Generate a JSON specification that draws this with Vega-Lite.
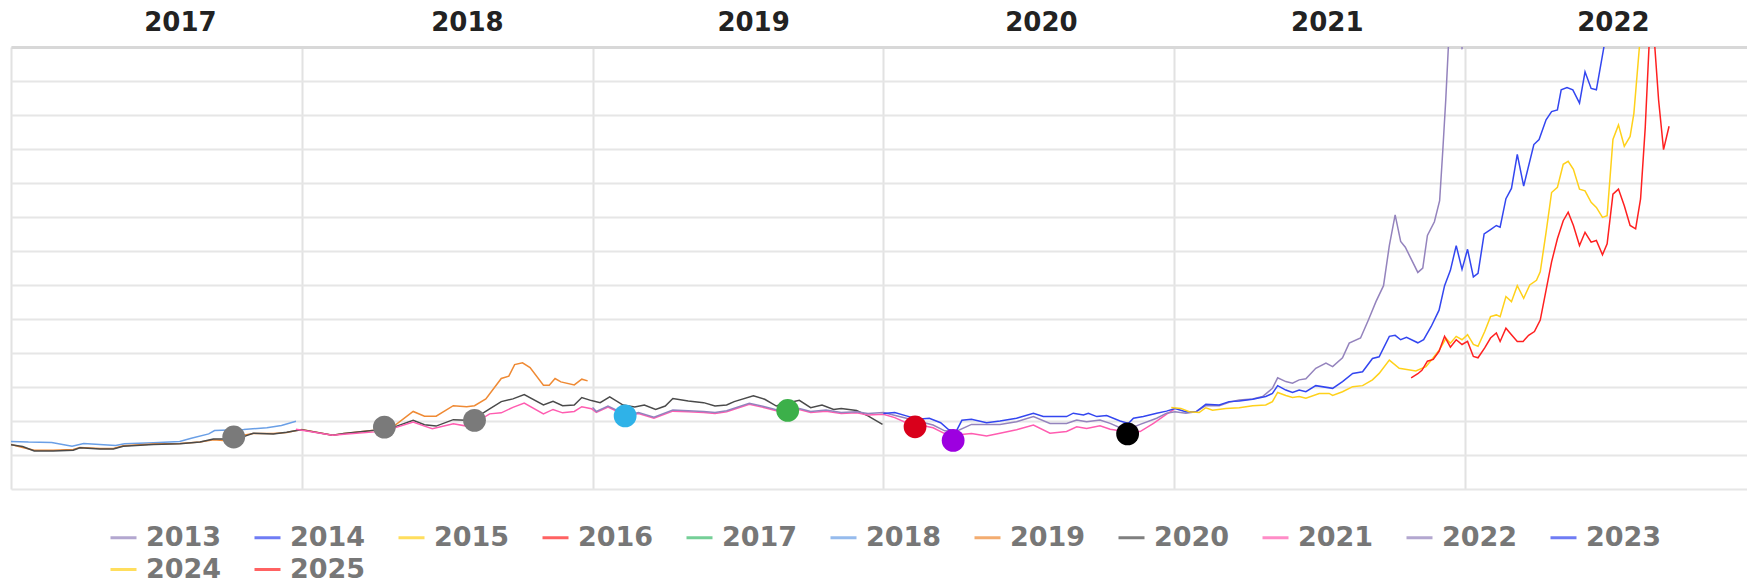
{
"$schema": "https://vega.github.io/schema/vega-lite/v6.json",
"width": 1736, "height": 442,
"autosize": "none",
"padding": {"left": 11, "top": 47, "right": 0, "bottom": 94},
"config": {"view": {"stroke": null}, "font": "DejaVu Sans"},
"datasets": {
"lines": [
{"s":"2018","x":0,"y":1.40},{"s":"2018","x":0.06,"y":1.38},{"s":"2018","x":0.14,"y":1.37},{"s":"2018","x":0.21,"y":1.26},{"s":"2018","x":0.25,"y":1.34},{"s":"2018","x":0.36,"y":1.28},{"s":"2018","x":0.39,"y":1.33},{"s":"2018","x":0.49,"y":1.36},{"s":"2018","x":0.58,"y":1.40},{"s":"2018","x":0.62,"y":1.49},{"s":"2018","x":0.68,"y":1.62},{"s":"2018","x":0.70,"y":1.72},{"s":"2018","x":0.80,"y":1.75},{"s":"2018","x":0.88,"y":1.80},{"s":"2018","x":0.93,"y":1.87},{"s":"2018","x":0.98,"y":1.99},

{"s":"2019","x":0,"y":1.31},{"s":"2019","x":0.04,"y":1.22},{"s":"2019","x":0.08,"y":1.14},{"s":"2019","x":0.145,"y":1.14},{"s":"2019","x":0.214,"y":1.16},{"s":"2019","x":0.237,"y":1.22},{"s":"2019","x":0.306,"y":1.19},{"s":"2019","x":0.352,"y":1.19},{"s":"2019","x":0.386,"y":1.27},{"s":"2019","x":0.489,"y":1.32},{"s":"2019","x":0.581,"y":1.34},{"s":"2019","x":0.65,"y":1.38},{"s":"2019","x":0.696,"y":1.45},{"s":"2019","x":0.742,"y":1.42},{"s":"2019","x":0.78,"y":1.55},{"s":"2019","x":0.833,"y":1.63},{"s":"2019","x":0.902,"y":1.63},{"s":"2019","x":0.948,"y":1.66},{"s":"2019","x":0.982,"y":1.72},{"s":"2019","x":1.0,"y":1.75},
{"s":"2019","x":1.106,"y":1.58},{"s":"2019","x":1.145,"y":1.63},{"s":"2019","x":1.251,"y":1.73},{"s":"2019","x":1.317,"y":1.85},{"s":"2019","x":1.383,"y":2.28},{"s":"2019","x":1.422,"y":2.14},{"s":"2019","x":1.462,"y":2.14},{"s":"2019","x":1.521,"y":2.45},{"s":"2019","x":1.567,"y":2.42},{"s":"2019","x":1.594,"y":2.45},{"s":"2019","x":1.633,"y":2.65},{"s":"2019","x":1.686,"y":3.25},{"s":"2019","x":1.712,"y":3.32},{"s":"2019","x":1.732,"y":3.66},{"s":"2019","x":1.759,"y":3.71},{"s":"2019","x":1.785,"y":3.57},{"s":"2019","x":1.831,"y":3.05},{"s":"2019","x":1.851,"y":3.05},{"s":"2019","x":1.871,"y":3.25},{"s":"2019","x":1.891,"y":3.15},{"s":"2019","x":1.937,"y":3.06},{"s":"2019","x":1.963,"y":3.23},{"s":"2019","x":1.983,"y":3.18},

{"s":"2020","x":0,"y":1.30},{"s":"2020","x":0.04,"y":1.25},{"s":"2020","x":0.08,"y":1.12},{"s":"2020","x":0.145,"y":1.12},{"s":"2020","x":0.214,"y":1.14},{"s":"2020","x":0.237,"y":1.21},{"s":"2020","x":0.306,"y":1.18},{"s":"2020","x":0.352,"y":1.18},{"s":"2020","x":0.386,"y":1.26},{"s":"2020","x":0.489,"y":1.31},{"s":"2020","x":0.581,"y":1.33},{"s":"2020","x":0.65,"y":1.38},{"s":"2020","x":0.696,"y":1.47},{"s":"2020","x":0.742,"y":1.47},{"s":"2020","x":0.765,"y":1.43},{"s":"2020","x":0.81,"y":1.57},{"s":"2020","x":0.833,"y":1.64},{"s":"2020","x":0.902,"y":1.62},{"s":"2020","x":0.948,"y":1.67},{"s":"2020","x":0.982,"y":1.72},{"s":"2020","x":1.0,"y":1.74},
{"s":"2020","x":1.106,"y":1.58},{"s":"2020","x":1.145,"y":1.63},{"s":"2020","x":1.251,"y":1.73},{"s":"2020","x":1.317,"y":1.82},{"s":"2020","x":1.383,"y":2.02},{"s":"2020","x":1.422,"y":1.89},{"s":"2020","x":1.462,"y":1.85},{"s":"2020","x":1.521,"y":2.04},{"s":"2020","x":1.567,"y":2.02},{"s":"2020","x":1.60,"y":2.11},{"s":"2020","x":1.646,"y":2.36},{"s":"2020","x":1.686,"y":2.57},{"s":"2020","x":1.726,"y":2.65},{"s":"2020","x":1.765,"y":2.78},{"s":"2020","x":1.831,"y":2.47},{"s":"2020","x":1.864,"y":2.58},{"s":"2020","x":1.897,"y":2.45},{"s":"2020","x":1.937,"y":2.47},{"s":"2020","x":1.963,"y":2.69},{"s":"2020","x":1.996,"y":2.60},
{"s":"2020","x":2.026,"y":2.54},{"s":"2020","x":2.059,"y":2.71},{"s":"2020","x":2.105,"y":2.47},{"s":"2020","x":2.145,"y":2.41},{"s":"2020","x":2.178,"y":2.47},{"s":"2020","x":2.217,"y":2.34},{"s":"2020","x":2.25,"y":2.44},{"s":"2020","x":2.276,"y":2.66},{"s":"2020","x":2.329,"y":2.59},{"s":"2020","x":2.382,"y":2.54},{"s":"2020","x":2.421,"y":2.44},{"s":"2020","x":2.461,"y":2.47},{"s":"2020","x":2.487,"y":2.57},{"s":"2020","x":2.553,"y":2.74},{"s":"2020","x":2.592,"y":2.64},{"s":"2020","x":2.632,"y":2.44},{"s":"2020","x":2.658,"y":2.51},{"s":"2020","x":2.711,"y":2.61},{"s":"2020","x":2.75,"y":2.39},{"s":"2020","x":2.789,"y":2.47},{"s":"2020","x":2.829,"y":2.34},{"s":"2020","x":2.855,"y":2.37},{"s":"2020","x":2.908,"y":2.31},{"s":"2020","x":2.947,"y":2.15},{"s":"2020","x":2.997,"y":1.90},

{"s":"2021","x":0.98,"y":1.76},{"s":"2021","x":1.106,"y":1.58},{"s":"2021","x":1.145,"y":1.61},{"s":"2021","x":1.251,"y":1.68},{"s":"2021","x":1.317,"y":1.79},{"s":"2021","x":1.383,"y":1.97},{"s":"2021","x":1.422,"y":1.85},{"s":"2021","x":1.449,"y":1.77},{"s":"2021","x":1.521,"y":1.92},{"s":"2021","x":1.567,"y":1.85},{"s":"2021","x":1.60,"y":1.97},{"s":"2021","x":1.646,"y":2.21},{"s":"2021","x":1.686,"y":2.24},{"s":"2021","x":1.726,"y":2.40},{"s":"2021","x":1.765,"y":2.53},{"s":"2021","x":1.831,"y":2.21},{"s":"2021","x":1.864,"y":2.34},{"s":"2021","x":1.897,"y":2.24},{"s":"2021","x":1.937,"y":2.28},{"s":"2021","x":1.963,"y":2.42},{"s":"2021","x":1.996,"y":2.36},
{"s":"2021","x":2.013,"y":2.25},{"s":"2021","x":2.053,"y":2.41},{"s":"2021","x":2.118,"y":2.15},{"s":"2021","x":2.158,"y":2.22},{"s":"2021","x":2.211,"y":2.08},{"s":"2021","x":2.276,"y":2.29},{"s":"2021","x":2.329,"y":2.27},{"s":"2021","x":2.382,"y":2.25},{"s":"2021","x":2.421,"y":2.22},{"s":"2021","x":2.461,"y":2.27},{"s":"2021","x":2.539,"y":2.49},{"s":"2021","x":2.592,"y":2.39},{"s":"2021","x":2.645,"y":2.27},{"s":"2021","x":2.711,"y":2.34},{"s":"2021","x":2.75,"y":2.25},{"s":"2021","x":2.803,"y":2.29},{"s":"2021","x":2.855,"y":2.22},{"s":"2021","x":2.908,"y":2.24},{"s":"2021","x":2.947,"y":2.18},{"s":"2021","x":3.0,"y":2.20},
{"s":"2021","x":3.039,"y":2.10},{"s":"2021","x":3.079,"y":1.95},{"s":"2021","x":3.118,"y":1.90},{"s":"2021","x":3.171,"y":1.80},{"s":"2021","x":3.211,"y":1.63},{"s":"2021","x":3.25,"y":1.59},{"s":"2021","x":3.303,"y":1.63},{"s":"2021","x":3.355,"y":1.56},{"s":"2021","x":3.401,"y":1.64},{"s":"2021","x":3.458,"y":1.74},{"s":"2021","x":3.516,"y":1.88},{"s":"2021","x":3.573,"y":1.64},{"s":"2021","x":3.63,"y":1.69},{"s":"2021","x":3.665,"y":1.83},{"s":"2021","x":3.699,"y":1.78},{"s":"2021","x":3.745,"y":1.86},{"s":"2021","x":3.78,"y":1.76},{"s":"2021","x":3.814,"y":1.71},{"s":"2021","x":3.883,"y":1.69},{"s":"2021","x":3.929,"y":1.93},{"s":"2021","x":3.974,"y":2.20},{"s":"2021","x":4.0,"y":2.34},

{"s":"2022","x":2.0,"y":2.40},{"s":"2022","x":2.013,"y":2.28},{"s":"2022","x":2.053,"y":2.44},{"s":"2022","x":2.118,"y":2.18},{"s":"2022","x":2.158,"y":2.25},{"s":"2022","x":2.211,"y":2.11},{"s":"2022","x":2.276,"y":2.32},{"s":"2022","x":2.329,"y":2.30},{"s":"2022","x":2.382,"y":2.28},{"s":"2022","x":2.421,"y":2.25},{"s":"2022","x":2.461,"y":2.30},{"s":"2022","x":2.539,"y":2.52},{"s":"2022","x":2.592,"y":2.42},{"s":"2022","x":2.645,"y":2.30},{"s":"2022","x":2.711,"y":2.37},{"s":"2022","x":2.75,"y":2.28},{"s":"2022","x":2.803,"y":2.32},{"s":"2022","x":2.855,"y":2.25},{"s":"2022","x":2.908,"y":2.27},{"s":"2022","x":2.947,"y":2.22},
{"s":"2022","x":3.0,"y":2.25},{"s":"2022","x":3.079,"y":2.08},{"s":"2022","x":3.118,"y":2.0},{"s":"2022","x":3.171,"y":1.88},{"s":"2022","x":3.211,"y":1.71},{"s":"2022","x":3.25,"y":1.69},{"s":"2022","x":3.303,"y":1.90},{"s":"2022","x":3.355,"y":1.90},{"s":"2022","x":3.401,"y":1.90},{"s":"2022","x":3.458,"y":1.98},{"s":"2022","x":3.516,"y":2.13},{"s":"2022","x":3.573,"y":1.93},{"s":"2022","x":3.63,"y":1.93},{"s":"2022","x":3.665,"y":2.03},{"s":"2022","x":3.699,"y":1.98},{"s":"2022","x":3.745,"y":2.03},{"s":"2022","x":3.78,"y":1.93},{"s":"2022","x":3.814,"y":1.80},{"s":"2022","x":3.843,"y":1.76},{"s":"2022","x":3.883,"y":1.90},{"s":"2022","x":3.94,"y":2.08},{"s":"2022","x":3.974,"y":2.23},{"s":"2022","x":4.003,"y":2.27},
{"s":"2022","x":4.04,"y":2.23},{"s":"2022","x":4.075,"y":2.27},{"s":"2022","x":4.109,"y":2.45},{"s":"2022","x":4.155,"y":2.45},{"s":"2022","x":4.189,"y":2.55},{"s":"2022","x":4.224,"y":2.62},{"s":"2022","x":4.27,"y":2.65},{"s":"2022","x":4.304,"y":2.72},{"s":"2022","x":4.338,"y":2.96},{"s":"2022","x":4.356,"y":3.27},{"s":"2022","x":4.384,"y":3.16},{"s":"2022","x":4.407,"y":3.11},{"s":"2022","x":4.43,"y":3.21},{"s":"2022","x":4.453,"y":3.24},{"s":"2022","x":4.487,"y":3.55},{"s":"2022","x":4.522,"y":3.70},{"s":"2022","x":4.545,"y":3.60},{"s":"2022","x":4.579,"y":3.86},{"s":"2022","x":4.602,"y":4.29},{"s":"2022","x":4.641,"y":4.44},{"s":"2022","x":4.668,"y":4.97},{"s":"2022","x":4.694,"y":5.51},{"s":"2022","x":4.72,"y":5.98},{"s":"2022","x":4.74,"y":7.16},{"s":"2022","x":4.76,"y":8.06},{"s":"2022","x":4.779,"y":7.28},{"s":"2022","x":4.795,"y":7.11},{"s":"2022","x":4.838,"y":6.37},{"s":"2022","x":4.855,"y":6.50},{"s":"2022","x":4.871,"y":7.46},{"s":"2022","x":4.895,"y":7.86},{"s":"2022","x":4.913,"y":8.48},{"s":"2022","x":4.924,"y":9.98},{"s":"2022","x":4.934,"y":11.44},{"s":"2022","x":4.943,"y":13.0},{"s":"2022","x":4.96,"y":18},{"s":"2022","x":4.985,"y":18},{"s":"2022","x":4.99,"y":12.93},

{"s":"2023","x":3.0,"y":2.22},{"s":"2023","x":3.039,"y":2.25},{"s":"2023","x":3.079,"y":2.15},{"s":"2023","x":3.118,"y":2.05},{"s":"2023","x":3.158,"y":2.08},{"s":"2023","x":3.197,"y":1.95},{"s":"2023","x":3.224,"y":1.75},{"s":"2023","x":3.25,"y":1.69},{"s":"2023","x":3.27,"y":2.02},{"s":"2023","x":3.303,"y":2.05},{"s":"2023","x":3.355,"y":1.95},{"s":"2023","x":3.401,"y":2.0},{"s":"2023","x":3.458,"y":2.08},{"s":"2023","x":3.516,"y":2.23},{"s":"2023","x":3.55,"y":2.13},{"s":"2023","x":3.63,"y":2.13},{"s":"2023","x":3.653,"y":2.23},{"s":"2023","x":3.688,"y":2.18},{"s":"2023","x":3.705,"y":2.23},{"s":"2023","x":3.734,"y":2.13},{"s":"2023","x":3.768,"y":2.16},{"s":"2023","x":3.814,"y":2.0},{"s":"2023","x":3.843,"y":1.93},{"s":"2023","x":3.86,"y":2.08},{"s":"2023","x":3.894,"y":2.13},{"s":"2023","x":3.94,"y":2.23},{"s":"2023","x":3.974,"y":2.29},{"s":"2023","x":4.003,"y":2.37},
{"s":"2023","x":4.04,"y":2.27},{"s":"2023","x":4.075,"y":2.27},{"s":"2023","x":4.109,"y":2.49},{"s":"2023","x":4.155,"y":2.47},{"s":"2023","x":4.189,"y":2.57},{"s":"2023","x":4.224,"y":2.59},{"s":"2023","x":4.27,"y":2.64},{"s":"2023","x":4.315,"y":2.72},{"s":"2023","x":4.338,"y":2.81},{"s":"2023","x":4.356,"y":3.04},{"s":"2023","x":4.384,"y":2.91},{"s":"2023","x":4.407,"y":2.84},{"s":"2023","x":4.43,"y":2.91},{"s":"2023","x":4.453,"y":2.86},{"s":"2023","x":4.487,"y":3.04},{"s":"2023","x":4.545,"y":2.96},{"s":"2023","x":4.579,"y":3.16},{"s":"2023","x":4.614,"y":3.40},{"s":"2023","x":4.648,"y":3.45},{"s":"2023","x":4.682,"y":3.84},{"s":"2023","x":4.705,"y":3.89},{"s":"2023","x":4.74,"y":4.49},{"s":"2023","x":4.76,"y":4.52},{"s":"2023","x":4.779,"y":4.39},{"s":"2023","x":4.799,"y":4.46},{"s":"2023","x":4.838,"y":4.30},{"s":"2023","x":4.858,"y":4.39},{"s":"2023","x":4.884,"y":4.78},{"s":"2023","x":4.911,"y":5.26},{"s":"2023","x":4.93,"y":5.98},{"s":"2023","x":4.95,"y":6.43},{"s":"2023","x":4.97,"y":7.16},{"s":"2023","x":4.99,"y":6.46},{"s":"2023","x":5.009,"y":7.05},{"s":"2023","x":5.029,"y":6.24},{"s":"2023","x":5.045,"y":6.34},{"s":"2023","x":5.066,"y":7.50},{"s":"2023","x":5.088,"y":7.63},{"s":"2023","x":5.108,"y":7.75},{"s":"2023","x":5.121,"y":7.70},{"s":"2023","x":5.141,"y":8.54},{"s":"2023","x":5.16,"y":8.84},{"s":"2023","x":5.18,"y":9.84},{"s":"2023","x":5.202,"y":8.91},{"s":"2023","x":5.237,"y":10.13},{"s":"2023","x":5.255,"y":10.28},{"s":"2023","x":5.279,"y":10.86},{"s":"2023","x":5.298,"y":11.10},{"s":"2023","x":5.318,"y":11.15},{"s":"2023","x":5.331,"y":11.74},{"s":"2023","x":5.351,"y":11.81},{"s":"2023","x":5.371,"y":11.74},{"s":"2023","x":5.394,"y":11.35},{"s":"2023","x":5.413,"y":12.27},{"s":"2023","x":5.434,"y":11.78},{"s":"2023","x":5.452,"y":11.74},{"s":"2023","x":5.478,"y":13.0},{"s":"2023","x":5.50,"y":14.5},

{"s":"2024","x":3.99,"y":2.40},{"s":"2024","x":4.023,"y":2.37},{"s":"2024","x":4.052,"y":2.27},{"s":"2024","x":4.086,"y":2.25},{"s":"2024","x":4.109,"y":2.39},{"s":"2024","x":4.132,"y":2.32},{"s":"2024","x":4.178,"y":2.37},{"s":"2024","x":4.224,"y":2.39},{"s":"2024","x":4.27,"y":2.45},{"s":"2024","x":4.315,"y":2.47},{"s":"2024","x":4.338,"y":2.57},{"s":"2024","x":4.356,"y":2.84},{"s":"2024","x":4.384,"y":2.75},{"s":"2024","x":4.407,"y":2.69},{"s":"2024","x":4.43,"y":2.72},{"s":"2024","x":4.453,"y":2.67},{"s":"2024","x":4.499,"y":2.81},{"s":"2024","x":4.533,"y":2.81},{"s":"2024","x":4.545,"y":2.75},{"s":"2024","x":4.579,"y":2.86},{"s":"2024","x":4.614,"y":3.01},{"s":"2024","x":4.648,"y":3.04},{"s":"2024","x":4.682,"y":3.21},{"s":"2024","x":4.705,"y":3.40},{"s":"2024","x":4.74,"y":3.79},{"s":"2024","x":4.774,"y":3.55},{"s":"2024","x":4.831,"y":3.47},{"s":"2024","x":4.866,"y":3.60},{"s":"2024","x":4.889,"y":3.84},{"s":"2024","x":4.912,"y":4.09},{"s":"2024","x":4.935,"y":4.43},{"s":"2024","x":4.95,"y":4.29},{"s":"2024","x":4.97,"y":4.49},{"s":"2024","x":4.99,"y":4.39},{"s":"2024","x":5.009,"y":4.54},{"s":"2024","x":5.029,"y":4.25},{"s":"2024","x":5.045,"y":4.20},{"s":"2024","x":5.068,"y":4.63},{"s":"2024","x":5.088,"y":5.07},{"s":"2024","x":5.108,"y":5.12},{"s":"2024","x":5.121,"y":5.07},{"s":"2024","x":5.141,"y":5.66},{"s":"2024","x":5.16,"y":5.51},{"s":"2024","x":5.18,"y":5.98},{"s":"2024","x":5.202,"y":5.61},{"s":"2024","x":5.223,"y":6.0},{"s":"2024","x":5.246,"y":6.14},{"s":"2024","x":5.259,"y":6.39},{"s":"2024","x":5.279,"y":7.55},{"s":"2024","x":5.298,"y":8.72},{"s":"2024","x":5.318,"y":8.87},{"s":"2024","x":5.338,"y":9.55},{"s":"2024","x":5.355,"y":9.64},{"s":"2024","x":5.373,"y":9.40},{"s":"2024","x":5.394,"y":8.82},{"s":"2024","x":5.413,"y":8.77},{"s":"2024","x":5.434,"y":8.43},{"s":"2024","x":5.452,"y":8.28},{"s":"2024","x":5.473,"y":7.99},{"s":"2024","x":5.489,"y":8.04},{"s":"2024","x":5.509,"y":10.28},{"s":"2024","x":5.528,"y":10.71},{"s":"2024","x":5.548,"y":10.08},{"s":"2024","x":5.568,"y":10.37},{"s":"2024","x":5.581,"y":11.05},{"s":"2024","x":5.60,"y":13.0},{"s":"2024","x":5.62,"y":15},

{"s":"2025","x":4.815,"y":3.27},{"s":"2025","x":4.838,"y":3.39},{"s":"2025","x":4.852,"y":3.49},{"s":"2025","x":4.871,"y":3.76},{"s":"2025","x":4.891,"y":3.81},{"s":"2025","x":4.911,"y":4.05},{"s":"2025","x":4.93,"y":4.49},{"s":"2025","x":4.95,"y":4.17},{"s":"2025","x":4.97,"y":4.39},{"s":"2025","x":4.99,"y":4.25},{"s":"2025","x":5.009,"y":4.34},{"s":"2025","x":5.029,"y":3.90},{"s":"2025","x":5.045,"y":3.86},{"s":"2025","x":5.068,"y":4.15},{"s":"2025","x":5.088,"y":4.44},{"s":"2025","x":5.108,"y":4.59},{"s":"2025","x":5.121,"y":4.34},{"s":"2025","x":5.141,"y":4.73},{"s":"2025","x":5.16,"y":4.54},{"s":"2025","x":5.18,"y":4.34},{"s":"2025","x":5.20,"y":4.34},{"s":"2025","x":5.219,"y":4.52},{"s":"2025","x":5.239,"y":4.63},{"s":"2025","x":5.259,"y":4.97},{"s":"2025","x":5.279,"y":5.85},{"s":"2025","x":5.298,"y":6.68},{"s":"2025","x":5.318,"y":7.36},{"s":"2025","x":5.338,"y":7.89},{"s":"2025","x":5.355,"y":8.14},{"s":"2025","x":5.373,"y":7.75},{"s":"2025","x":5.394,"y":7.16},{"s":"2025","x":5.413,"y":7.55},{"s":"2025","x":5.434,"y":7.26},{"s":"2025","x":5.452,"y":7.31},{"s":"2025","x":5.473,"y":6.89},{"s":"2025","x":5.489,"y":7.21},{"s":"2025","x":5.509,"y":8.67},{"s":"2025","x":5.528,"y":8.82},{"s":"2025","x":5.548,"y":8.33},{"s":"2025","x":5.568,"y":7.75},{"s":"2025","x":5.587,"y":7.65},{"s":"2025","x":5.604,"y":8.53},{"s":"2025","x":5.62,"y":10.62},{"s":"2025","x":5.633,"y":13.0},{"s":"2025","x":5.643,"y":14.5},{"s":"2025","x":5.653,"y":13.0},{"s":"2025","x":5.666,"y":11.44},{"s":"2025","x":5.683,"y":9.98},{"s":"2025","x":5.702,"y":10.67}
],
"dots": [
{"m":"a","x":0.766,"y":1.53},{"m":"b","x":1.284,"y":1.82},{"m":"c","x":1.594,"y":2.02},{"m":"d","x":2.112,"y":2.15},{"m":"e","x":2.671,"y":2.31},{"m":"f","x":3.109,"y":1.83},{"m":"g","x":3.24,"y":1.43},{"m":"h","x":3.84,"y":1.62}
]
},
"layer": [
{
"data": {"name": "lines"},
"mark": {"type": "line", "strokeWidth": 1.5, "clip": true},
"encoding": {
"x": {"field": "x", "type": "quantitative", "scale": {"domain": [0, 5.97], "nice": false, "zero": false},
 "axis": {"orient": "bottom", "values": [0,1,2,3,4,5], "tickCount": 20, "grid": true, "gridColor": "#e2e2e2", "gridWidth": 2, "labels": false, "ticks": false, "domain": false, "title": null}},
"y": {"field": "y", "type": "quantitative", "scale": {"domain": [0, 13], "nice": false, "zero": false},
 "axis": {"values": [0,1,2,3,4,5,6,7,8,9,10,11,12,13], "tickCount": 30, "grid": true, "gridColor": "#e6e6e6", "gridWidth": 2, "labels": false, "ticks": false, "domain": false, "title": null}},
"color": {"field": "s", "type": "nominal",
 "scale": {"domain": ["2013","2014","2015","2016","2017","2018","2019","2020","2021","2022","2023","2024","2025"],
  "range": ["#9483bd","#3346f0","#ffd11a","#ff2020","#3cbc6c","#6a9fe6","#ef8a34","#4a4a4a","#ff5cb0","#9483bd","#3346f0","#ffd11a","#ff2020"]},
 "legend": {"orient": "none", "legendX": 98, "legendY": 476, "direction": "horizontal", "columns": 11, "title": null,
  "symbolType": "stroke", "symbolSize": 676, "symbolStrokeWidth": 3, "symbolOpacity": 0.7,
  "labelFont": "DejaVu Sans", "labelFontSize": 27, "labelFontWeight": "bold", "labelColor": "#777777",
  "labelOffset": 8, "columnPadding": 26, "rowPadding": 4, "padding": 0}}
}
},
{
"data": {"name": "dots"},
"mark": {"type": "circle", "size": 520, "opacity": 1},
"encoding": {
"x": {"field": "x", "type": "quantitative",
 "axis": {"orient": "top", "values": [0.581,1.568,2.552,3.542,4.525,5.509], "tickCount": 20, "labelExpr": "'' + (2017 + floor(datum.value))",
  "grid": false, "ticks": false, "domain": true, "domainColor": "#d8d8d8", "domainWidth": 3,
  "labelFont": "DejaVu Sans", "labelFontSize": 26, "labelFontWeight": "bold", "labelColor": "#222222",
  "labelPadding": 12, "labelOverlap": false, "labelFlush": false, "labelBound": false, "title": null}},
"y": {"field": "y", "type": "quantitative",
 "axis": {"values": [0,1,2,3,4,5,6,7,8,9,10,11,12,13], "tickCount": 30, "grid": true, "gridColor": "#e6e6e6", "gridWidth": 2, "labels": false, "ticks": false, "domain": false, "title": null}},
"color": {"field": "m", "type": "nominal",
 "scale": {"domain": ["a","b","c","d","e","f","g","h"], "range": ["#7a7a7a","#7a7a7a","#7a7a7a","#2fb2e8","#3cb04a","#d9001b","#9d00e0","#000000"]},
 "legend": null}
}
}
],
"resolve": {"axis": {"x": "independent"}, "scale": {"color": "independent"}}
}
